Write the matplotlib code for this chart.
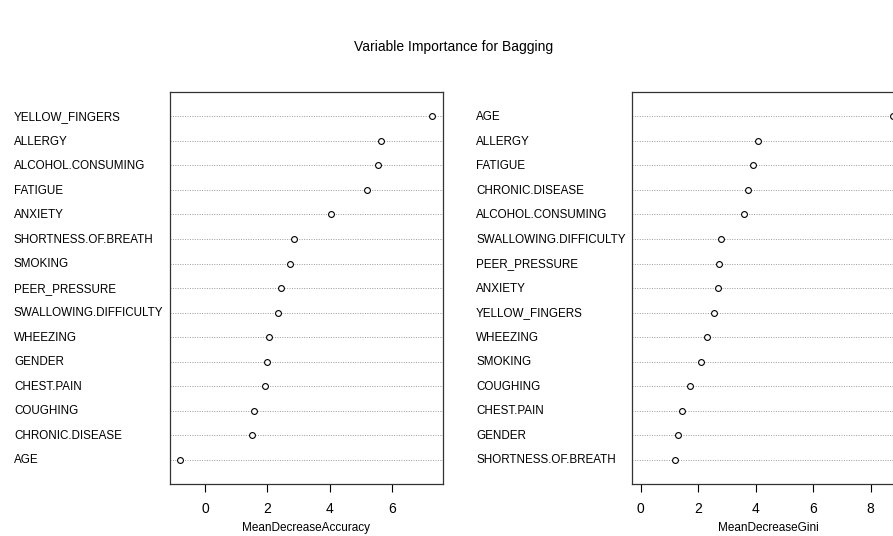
import numpy as np
import matplotlib.pyplot as plt

plt.rcParams['font.family'] = ['Liberation Sans', 'DejaVu Sans']

# data, listed top to bottom as shown
acc_vars = ['YELLOW_FINGERS', 'ALLERGY', 'ALCOHOL.CONSUMING', 'FATIGUE', 'ANXIETY',
            'SHORTNESS.OF.BREATH', 'SMOKING', 'PEER_PRESSURE', 'SWALLOWING.DIFFICULTY',
            'WHEEZING', 'GENDER', 'CHEST.PAIN', 'COUGHING', 'CHRONIC.DISEASE', 'AGE']
acc_vals = [7.30, 5.65, 5.56, 5.19, 4.03, 2.87, 2.74, 2.44, 2.34, 2.06, 1.98, 1.92,
            1.58, 1.52, -0.82]

gini_vars = ['AGE', 'ALLERGY', 'FATIGUE', 'CHRONIC.DISEASE', 'ALCOHOL.CONSUMING',
             'SWALLOWING.DIFFICULTY', 'PEER_PRESSURE', 'ANXIETY', 'YELLOW_FINGERS',
             'WHEEZING', 'SMOKING', 'COUGHING', 'CHEST.PAIN', 'GENDER',
             'SHORTNESS.OF.BREATH']
gini_vals = [8.80, 4.07, 3.91, 3.74, 3.59, 2.80, 2.73, 2.70, 2.55, 2.32, 2.10, 1.71,
             1.45, 1.30, 1.20]

acc_ticks = [0, 2, 4, 6]
gini_ticks = [0, 2, 4, 6, 8]

W, H = 893, 536
fig = plt.figure(figsize=(W / 100, H / 100), dpi=100)


def dotchart(ax, names, vals, xlim, ticks, xlabel):
    n = len(vals)
    y = np.arange(n, 0, -1)
    for yy in y:
        ax.axhline(yy, color='#9a9a9a', linestyle=(0, (1, 1.5)), linewidth=0.7, zorder=1)
    ax.plot(vals, y, linestyle='none', marker='o', markersize=4.2,
            markerfacecolor='white', markeredgecolor='black', markeredgewidth=0.8, zorder=3)
    ax.set_xlim(*xlim)
    ax.set_ylim(0, n + 1)
    ax.set_yticks([])
    ax.set_xticks(ticks)
    ax.tick_params(axis='x', direction='out', length=6, width=0.8, pad=7, labelsize=10)
    ax.set_xlabel(xlabel, fontsize=8.5, labelpad=4)
    for s in ax.spines.values():
        s.set_linewidth(0.9)
        s.set_color('#333333')
    for name, yy in zip(names, y):
        ax.text(-155.5 / 273, yy - 0.04, name, transform=ax.get_yaxis_transform(),
                ha='left', va='center', fontsize=8.4)


ax1 = fig.add_axes([169.5 / W, 52 / H, 273 / W, 392 / H])
dotchart(ax1, acc_vars, acc_vals, (-1.145, 7.625), acc_ticks, 'MeanDecreaseAccuracy')

ax2 = fig.add_axes([631.7 / W, 52 / H, 273 / W, 392 / H])
dotchart(ax2, gini_vars, gini_vals, (-0.31, 9.19), gini_ticks, 'MeanDecreaseGini')

fig.text(454 / W, 1 - 47 / H, 'Variable Importance for Bagging',
         ha='center', va='center', fontsize=10)

fig.savefig('out.png', dpi=100)
